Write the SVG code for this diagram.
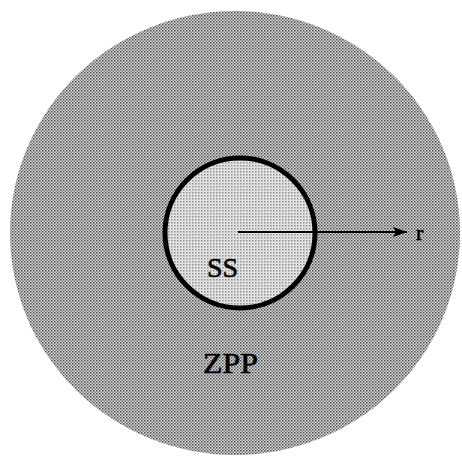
<svg xmlns="http://www.w3.org/2000/svg" width="462" height="456" viewBox="0 0 462 456">
  <defs>
    <pattern id="outerDots" width="3" height="3" patternUnits="userSpaceOnUse">
      <rect width="3" height="3" fill="#dadada"/>
      <rect x="0" y="0" width="1.5" height="1.5" fill="#4a4a4a"/>
      <rect x="1.5" y="1.5" width="1.5" height="1.5" fill="#7a7a7a"/>
    </pattern>
    <pattern id="innerDots" width="3" height="3" patternUnits="userSpaceOnUse">
      <rect width="3" height="3" fill="#ececec"/>
      <rect x="0" y="0" width="1.5" height="1.5" fill="#8a8a8a"/>
      <rect x="1.5" y="1.5" width="1" height="1" fill="#b0b0b0"/>
    </pattern>
    <marker id="arrow" viewBox="0 0 14 10" refX="14" refY="5" markerWidth="14" markerHeight="10" markerUnits="userSpaceOnUse" orient="auto">
      <path d="M0,0 L14,5 L0,10 L3,5 Z" fill="#000"/>
    </marker>
    <style>
      .lbl { font-family: "Liberation Serif", "Times New Roman", serif; fill: #000; stroke: #000; stroke-width: 0.6; }
    </style>
  </defs>
  <rect width="462" height="456" fill="#fff"/>
  <g id="ZPP">
    <ellipse cx="235" cy="233" rx="225" ry="222" fill="url(#outerDots)"/>
    <text class="lbl" x="203" y="373" font-size="29" textLength="55" lengthAdjust="spacingAndGlyphs">ZPP</text>
  </g>
  <g id="SS">
    <circle cx="240" cy="233" r="75" fill="url(#innerDots)" stroke="#000" stroke-width="5"/>
    <text class="lbl" x="207" y="277" font-size="28">SS</text>
  </g>
  <g id="connectors">
    <line x1="238" y1="232" x2="407" y2="232" stroke="#000" stroke-width="2" marker-end="url(#arrow)"/>
  </g>
  <text class="lbl" x="416" y="240" font-size="22">r</text>
</svg>
